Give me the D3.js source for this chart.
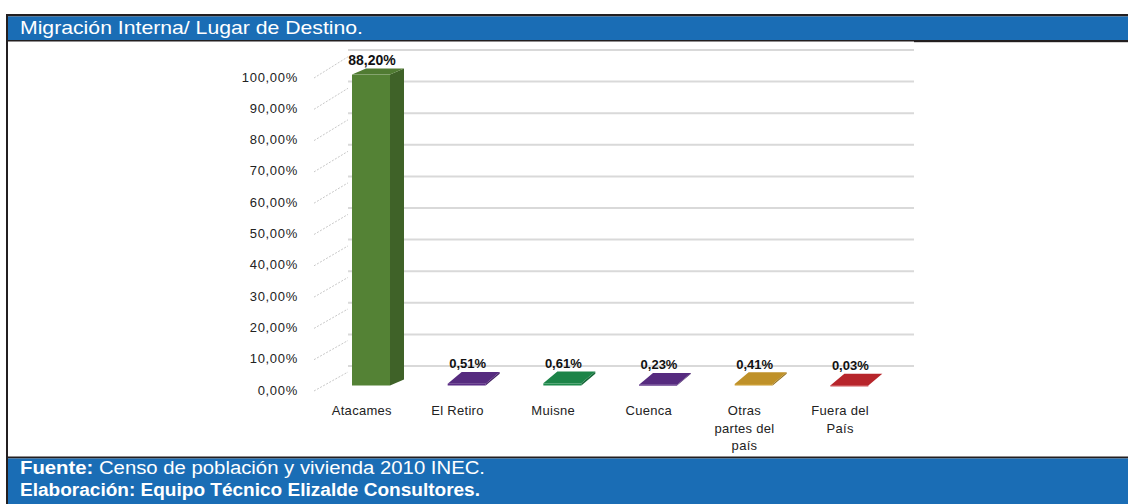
<!DOCTYPE html>
<html><head><meta charset="utf-8">
<script src="https://cdn.jsdelivr.net/npm/d3@7"></script>
<style>body{margin:0;background:#fff}svg{display:block}</style>
</head><body><svg id="c" width="1128" height="504"></svg>
<script>
const title = "Migración Interna/ Lugar de Destino.";
const categories = ["Atacames","El Retiro","Muisne","Cuenca","Otras partes del país","Fuera del País"];
const categoryLines = [["Atacames"],["El Retiro"],["Muisne"],["Cuenca"],["Otras","partes del","país"],["Fuera del","País"]];
const values = [88.20, 0.51, 0.61, 0.23, 0.41, 0.03];
const valueLabels = ["88,20%","0,51%","0,61%","0,23%","0,41%","0,03%"];
const barColors = ["#548235","#5b2d86","#1e8b4c","#5b2d86","#c9992b","#c1272d"];
const tickValues = [0,10,20,30,40,50,60,70,80,90,100];
const tickLabels = ["0,00%","10,00%","20,00%","30,00%","40,00%","50,00%","60,00%","70,00%","80,00%","90,00%","100,00%"];
const footerBold1 = "Fuente:";
const footerText1 = " Censo de población y vivienda 2010 INEC.";
const footerBold2 = "Elaboración: Equipo Técnico Elizalde Consultores.";

const svg = d3.select("#c");
const dark = "#231f20", blue = "#1a6db5";
const ff = "Liberation Sans, Arial, sans-serif";

// frame
svg.append("rect").attr("x",6).attr("y",14).attr("width",1122).attr("height",490).attr("fill","#fff");
svg.append("rect").attr("x",6).attr("y",14).attr("width",1122).attr("height",2.5).attr("fill",dark);
svg.append("rect").attr("x",8).attr("y",16.5).attr("width",1120).attr("height",23.5).attr("fill",blue);
svg.append("rect").attr("x",6).attr("y",40).attr("width",1122).attr("height",1.5).attr("fill",dark);
svg.append("rect").attr("x",914).attr("y",40).attr("width",214).attr("height",2.2).attr("fill",dark);
svg.append("rect").attr("x",6).attr("y",14).attr("width",2).attr("height",490).attr("fill",dark);
svg.append("rect").attr("x",6).attr("y",456.5).attr("width",1122).attr("height",2).attr("fill",dark);
svg.append("rect").attr("x",8).attr("y",458.5).attr("width",1120).attr("height",45.5).attr("fill",blue);

svg.append("text").attr("x",20).attr("y",34).attr("fill","#fff")
  .attr("font-family",ff).attr("font-size",19)
  .attr("textLength",343).attr("lengthAdjust","spacingAndGlyphs").text(title);

const ft = svg.append("text").attr("x",20).attr("y",473.5).attr("fill","#fff")
  .attr("font-family",ff).attr("font-size",18)
  .attr("textLength",465).attr("lengthAdjust","spacingAndGlyphs");
ft.append("tspan").attr("font-weight","bold").text(footerBold1);
ft.append("tspan").text(footerText1);
svg.append("text").attr("x",20).attr("y",496).attr("fill","#fff").attr("font-weight","bold")
  .attr("font-family",ff).attr("font-size",18)
  .attr("textLength",460).attr("lengthAdjust","spacingAndGlyphs").text(footerBold2);

// scales
const x = d3.scaleBand().domain(categories).range([314, 888]);
const yLabel = d3.scaleLinear().domain([0,100]).range([390,77]);
const yBack = d3.scaleLinear().domain([0,100]).range([366,50]);
const yBar = d3.scaleLinear().domain([0,100]).range([385.5,33]);
const barW = 38, depthX = 14;
const depthY = y => -(6 + (y-74)/54);

const g = svg.append("g");
// back wall gridlines
g.selectAll("line.grid").data(tickValues).join("line")
  .attr("x1",348).attr("x2",914)
  .attr("y1",d=>yBack(d)).attr("y2",d=>yBack(d))
  .attr("stroke","#d9d9d9").attr("stroke-width",2);
// side wall diagonals
g.selectAll("line.diag").data(tickValues).join("line")
  .attr("x1",314).attr("y1",d=>yLabel(d)+1)
  .attr("x2",348).attr("y2",d=>yBack(d)+ (yLabel(d)-yBack(d))*0.25)
  .attr("stroke","#c8c8c8").attr("stroke-width",1).attr("stroke-dasharray","2,1.5");
// tick labels
g.selectAll("text.tick").data(tickValues).join("text")
  .attr("x",298).attr("y",d=>yLabel(d)+4.5).attr("text-anchor","end")
  .attr("font-family",ff).attr("font-size",13)
  .attr("letter-spacing",0.7).attr("fill","#222")
  .text((d,i)=>tickLabels[i]);

// bars
const bars = g.selectAll("g.bar").data(categories).join("g");
bars.each(function(c,i){
  const gb = d3.select(this);
  const x0 = x(c) + 38, x1 = x0 + barW;
  const yb = yBar(0), yt = yBar(values[i]);
  const dy = depthY(yt);
  const col = d3.color(barColors[i]);
  gb.append("path").attr("d",`M${x1},${yb}L${x1+depthX},${yb+dy}L${x1+depthX},${yt+dy}L${x1},${yt}Z`)
    .attr("fill",col.darker(0.8));
  gb.append("path").attr("d",`M${x0},${yt}L${x0+depthX},${yt+dy}L${x1+depthX},${yt+dy}L${x1},${yt}Z`)
    .attr("fill",col.darker(0.15));
  gb.append("rect").attr("x",x0).attr("y",yt).attr("width",barW).attr("height",Math.max(yb-yt,1))
    .attr("fill",col);
  gb.append("text").attr("x",(x0+x1)/2 + 1).attr("y",yt+dy-3.5).attr("text-anchor","middle")
    .attr("font-family",ff).attr("font-size",i===0?14:13).attr("font-weight","bold")
    .attr("fill","#111").text(valueLabels[i]);
});

// category labels
const cl = g.selectAll("text.cat").data(categories).join("text")
  .attr("text-anchor","middle")
  .attr("font-family",ff).attr("font-size",13)
  .attr("letter-spacing",0.3).attr("fill","#222");
cl.each(function(c,i){
  const t = d3.select(this);
  categoryLines[i].forEach((ln,j)=>{
    t.append("tspan").attr("x",x(c)+x.bandwidth()/2).attr("y",415+j*17.5).text(ln);
  });
});
</script></body></html>
